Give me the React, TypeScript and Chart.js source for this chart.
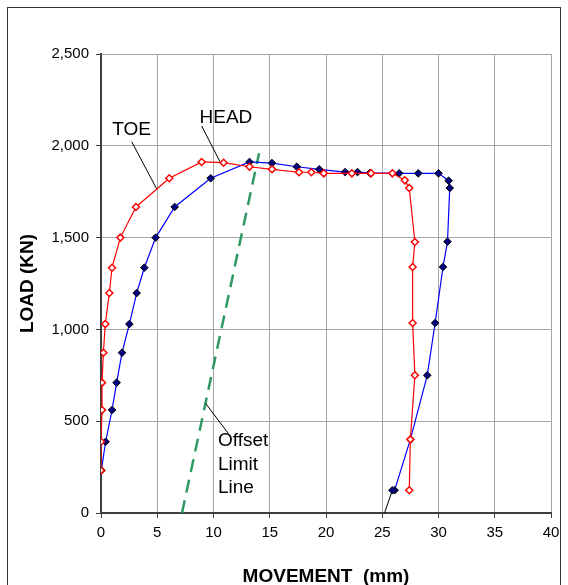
import React, { useEffect, useRef } from 'react';
import { Chart, registerables } from 'chart.js';

Chart.register(...registerables);

// ---- Data ----
const toeMovement = [0, 0, 0.09, 0.09, 0.21, 0.38, 0.74, 0.98, 1.72, 3.11, 6.07, 8.95, 10.9, 13.2, 15.2, 17.6, 18.7, 19.8, 22.3, 24.0, 25.9, 27.0, 27.4, 27.9, 27.7, 27.7, 27.9, 27.5, 27.4];
const toeLoad = [232, 388, 561, 710, 873, 1029, 1198, 1336, 1500, 1667, 1823, 1912, 1908, 1886, 1872, 1856, 1856, 1850, 1850, 1850, 1850, 1812, 1770, 1476, 1340, 1035, 750, 401, 124];

const headMovement = [0.03, 0.41, 0.98, 1.39, 1.87, 2.52, 3.17, 3.85, 4.86, 6.55, 9.75, 13.2, 15.2, 17.4, 19.4, 21.7, 22.8, 23.9, 26.5, 28.2, 30.0, 30.9, 31.0, 30.8, 30.4, 29.7, 29.0, 27.5, 26.1, 25.9];
const headLoad = [232, 388, 561, 710, 873, 1029, 1198, 1336, 1500, 1667, 1823, 1912, 1906, 1886, 1872, 1857, 1857, 1852, 1850, 1850, 1850, 1810, 1770, 1478, 1340, 1035, 750, 401, 124, 124];

const offsetMovement = [7.2, 14.05];
const offsetLoad = [0, 1960];

const toeLeaderMovement = [2.73, 4.95];
const toeLeaderLoad = [2022, 1765];
const headLeaderMovement = [8.95, 10.58];
const headLeaderLoad = [2108, 1913];
const offsetLeaderMovement = [9.31, 11.32];
const offsetLeaderLoad = [596, 433];
const baseLeaderMovement = [25.2, 25.9];
const baseLeaderLoad = [0, 124];

const xTicks = [0, 5, 10, 15, 20, 25, 30, 35, 40];
const yTicks = [0, 500, 1000, 1500, 2000, 2500];

const labelTexts = ['TOE', 'HEAD', 'Offset', 'Limit', 'Line'];
const labelMovement = [2.71, 11.1, 10.4, 10.4, 10.4];
const labelLoad = [2086, 2151, 392, 261, 136];
const labelAlign = ['center', 'center', 'left', 'left', 'left'];

const zip = (xs: number[], ys: number[]) => xs.map((x, i) => ({ x, y: ys[i] }));

const FONT = "'Liberation Sans', Arial, Helvetica, sans-serif";

const leader = (xs: number[], ys: number[]) => ({
  data: zip(xs, ys),
  showLine: true,
  borderColor: '#000000',
  borderWidth: 1,
  pointRadius: 0,
  fill: false,
});

const framePlugin = {
  id: 'frame',
  beforeDraw(chart: any) {
    const ctx = chart.ctx;
    ctx.save();
    ctx.fillStyle = '#ffffff';
    ctx.fillRect(0, 0, chart.width, chart.height);
    ctx.strokeStyle = '#333333';
    ctx.lineWidth = 1;
    ctx.strokeRect(7.5, 7.5, chart.width - 15, chart.height + 40);
    ctx.restore();
  },
};

const labelPlugin = {
  id: 'labels',
  afterDatasetsDraw(chart: any) {
    const ctx = chart.ctx;
    const xs = chart.scales.x;
    const ys = chart.scales.y;
    ctx.save();
    ctx.font = `19px ${FONT}`;
    ctx.fillStyle = '#000000';
    ctx.textBaseline = 'middle';
    labelTexts.forEach((t, i) => {
      ctx.textAlign = labelAlign[i];
      ctx.fillText(t, xs.getPixelForValue(labelMovement[i]), ys.getPixelForValue(labelLoad[i]));
    });
    ctx.restore();
  },
};

export default function App() {
  const ref = useRef<HTMLCanvasElement>(null);

  useEffect(() => {
    if (!ref.current) return;
    const chart = new Chart(ref.current, {
      type: 'scatter',
      data: {
        datasets: [
          {
            label: 'TOE',
            data: zip(toeMovement, toeLoad),
            showLine: true,
            borderColor: '#ff0000',
            borderWidth: 1.2,
            pointStyle: 'rectRot',
            pointRadius: 3.5,
            pointBackgroundColor: '#ffffff',
            pointBorderColor: '#ff0000',
            pointBorderWidth: 1.5,
          },
          {
            label: 'HEAD',
            data: zip(headMovement, headLoad),
            showLine: true,
            borderColor: '#0000ff',
            borderWidth: 1.2,
            pointStyle: 'rectRot',
            pointRadius: 3.8,
            pointBackgroundColor: '#000080',
            pointBorderColor: '#000000',
            pointBorderWidth: 1,
          },
          leader(toeLeaderMovement, toeLeaderLoad),
          leader(headLeaderMovement, headLeaderLoad),
          leader(offsetLeaderMovement, offsetLeaderLoad),
          leader(baseLeaderMovement, baseLeaderLoad),
          {
            label: 'Offset Limit Line',
            data: zip(offsetMovement, offsetLoad),
            showLine: true,
            borderColor: '#2e9a62',
            borderWidth: 2.5,
            borderDash: [13, 8],
            pointRadius: 0,
          },
        ],
      },
      options: {
        animation: false,
        responsive: false,
        maintainAspectRatio: false,
        layout: { padding: { left: 0, top: 54, right: 17, bottom: 0 } },
        plugins: { legend: { display: false }, tooltip: { enabled: false } },
        scales: {
          x: {
            type: 'linear',
            min: 0,
            max: 40,
            afterBuildTicks: (s: any) => { s.ticks = xTicks.map((v) => ({ value: v })); },
            afterFit: (s: any) => { s.height = 72; },
            ticks: { color: '#000', font: { family: FONT, size: 15 }, padding: 6, maxRotation: 0 },
            grid: { color: '#a6a6a6', lineWidth: 1, tickColor: '#404040', tickLength: 5 },
            border: { color: '#404040', width: 2 },
            title: {
              display: true,
              text: 'MOVEMENT  (mm)',
              color: '#000',
              font: { family: FONT, size: 19, weight: 'bold', lineHeight: 0.9 },
              padding: { top: 0, bottom: 0 },
            },
          },
          y: {
            type: 'linear',
            min: 0,
            max: 2500,
            afterBuildTicks: (s: any) => { s.ticks = yTicks.map((v) => ({ value: v })); },
            afterFit: (s: any) => { s.width = 101; },
            ticks: {
              color: '#000',
              font: { family: FONT, size: 15 },
              padding: 7,
              callback: (v: any) => Number(v).toLocaleString('en-US'),
            },
            grid: { color: '#a6a6a6', lineWidth: 1, tickColor: '#404040', tickLength: 5 },
            border: { color: '#404040', width: 2 },
            title: {
              display: true,
              text: 'LOAD (KN)',
              color: '#000',
              font: { family: FONT, size: 19, weight: 'bold', lineHeight: 1 },
              padding: { top: 18.5, bottom: 0 },
            },
          },
        },
      },
      plugins: [framePlugin, labelPlugin],
    } as any);
    return () => chart.destroy();
  }, []);

  return (
    <div style={{ position: 'fixed', left: 0, top: 0, width: 568, height: 585, background: '#fff' }}>
      <canvas ref={ref} width={568} height={585} style={{ display: 'block' }} />
    </div>
  );
}
